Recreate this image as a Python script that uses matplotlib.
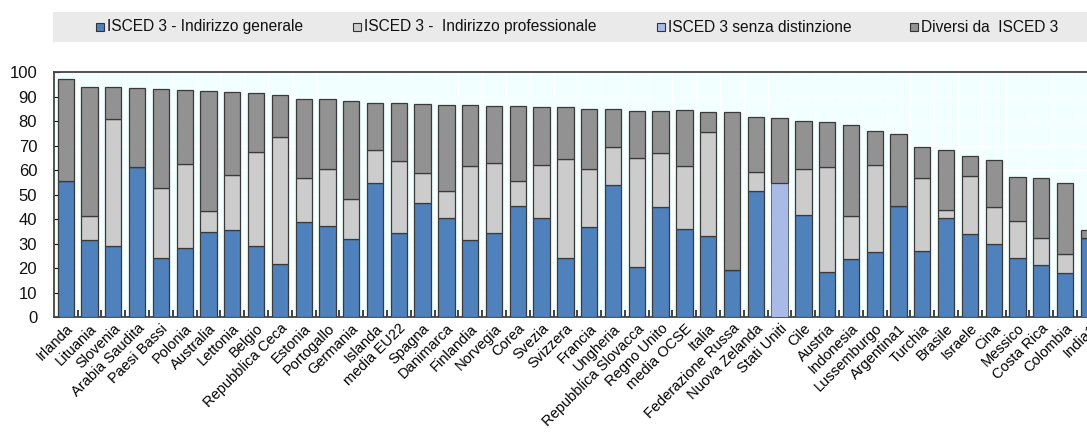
import matplotlib
matplotlib.use("Agg")
import matplotlib.pyplot as plt
from matplotlib.patches import Rectangle
import numpy as np

countries = ["Irlanda", "Lituania", "Slovenia", "Arabia Saudita", "Paesi Bassi", "Polonia",
             "Australia", "Lettonia", "Belgio", "Repubblica Ceca", "Estonia", "Portogallo",
             "Germania", "Islanda", "media EU22", "Spagna", "Danimarca", "Finlandia",
             "Norvegia", "Corea", "Svezia", "Svizzera", "Francia", "Ungheria",
             "Repubblica Slovacca", "Regno Unito", "media OCSE", "Italia", "Federazione Russa",
             "Nuova Zelanda", "Stati Uniti", "Cile", "Austria", "Indonesia", "Lussemburgo",
             "Argentina1", "Turchia", "Brasile", "Israele", "Cina", "Messico", "Costa Rica",
             "Colombia", "India1"]

# cumulative levels
general = [55.8, 31.6, 29.3, 61.5, 24.4, 28.4, 35.0, 35.6, 29.3, 21.9, 38.9, 37.1,
           32.0, 55.0, 34.6, 46.8, 40.5, 31.6, 34.6, 45.6, 40.5, 24.2, 37.0, 54.0,
           20.5, 45.2, 36.1, 33.2, 19.3, 51.4, 0.0, 41.9, 18.5, 23.8, 26.7,
           45.6, 26.9, 40.4, 34.0, 29.9, 24.2, 21.5, 18.0, 32.2]
general_plus_prof = [55.8, 41.5, 80.8, 61.5, 52.8, 62.7, 43.5, 58.0, 67.5, 73.7, 57.0, 60.4,
                     48.3, 68.2, 63.9, 58.8, 51.6, 61.8, 63.0, 55.6, 62.0, 64.6, 60.4, 69.7,
                     64.9, 67.1, 61.9, 75.8, 19.3, 59.3, 0.0, 60.7, 61.5, 41.2, 62.3,
                     45.6, 57.0, 43.7, 57.7, 44.9, 39.5, 32.5, 25.9, 32.2]
no_distinction = [0, 0, 0, 0, 0, 0, 0, 0, 0, 0, 0, 0, 0, 0, 0, 0, 0, 0, 0, 0, 0, 0,
                  0, 0, 0, 0, 0, 0, 0, 0, 55.0, 0, 0, 0, 0, 0, 0, 0, 0, 0, 0, 0, 0, 0]
total = [97.1, 94.1, 94.1, 93.7, 93.2, 92.8, 92.2, 91.8, 91.6, 90.7, 89.1, 89.0,
         88.3, 87.6, 87.6, 87.1, 86.8, 86.8, 86.4, 86.4, 86.0, 85.7, 85.0, 85.0,
         84.4, 84.1, 84.8, 83.8, 83.8, 81.6, 81.2, 80.1, 79.7, 78.5, 76.1,
         74.7, 69.7, 68.4, 66.0, 64.4, 57.1, 57.0, 55.0, 35.6]

labels = ["ISCED 3 - Indirizzo generale", "ISCED 3 -  Indirizzo professionale",
          "ISCED 3 senza distinzione", "Diversi da  ISCED 3"]
colors = ["#4F81BD", "#CCCCCC", "#A9BAE6", "#929292"]

plt.rcParams['font.family'] = ['Liberation Sans', 'DejaVu Sans']

g = np.array(general)
gp = np.array(general_plus_prof)
nd = np.array(no_distinction)
tot = np.array(total)
prof = np.where(nd > 0, 0, gp - g)
base_other = np.maximum(gp, nd)
other = tot - base_other

W, H = 1087, 436
fig = plt.figure(figsize=(W / 100, H / 100), dpi=100)
ax = fig.add_axes([53.8 / W, (H - 317.3) / H, 1047 / W, (317.3 - 72.3) / H])
ax.set_facecolor("#F2FFFF")

x = np.arange(len(countries))
bw = 0.685
ec = "#3A3A3A"
lw = 0.9
ax.bar(x, g, bw, color=colors[0], edgecolor=ec, linewidth=lw, zorder=3)
ax.bar(x, prof, bw, bottom=g, color=colors[1], edgecolor=ec, linewidth=lw, zorder=3)
ax.bar(x, nd, bw, color=colors[2], edgecolor=ec, linewidth=0.5, zorder=3)
ax.bar(x, other, bw, bottom=base_other, color=colors[3], edgecolor=ec, linewidth=lw, zorder=3)

ax.set_xlim(-0.5, len(countries) - 0.5)
ax.set_ylim(0, 100)
ax.set_yticks(np.arange(0, 101, 10))
ax.tick_params(axis='y', direction='in', length=4, pad=12, labelsize=12, colors="#111111")
ax.set_xticks(x)
ax.set_xticklabels(countries, rotation=45, ha='right', rotation_mode='anchor', fontsize=10.5)
ax.tick_params(axis='x', which='major', length=0, pad=3)
ax.set_xticks(x[:-1] + 0.5, minor=True)
ax.tick_params(axis='x', which='minor', direction='in', length=5, width=1.2, color="#222222")

ax.grid(True, axis='y', color='white', linewidth=1.0, zorder=0)
ax.grid(True, axis='x', which='minor', color='white', linewidth=1.0, zorder=0)
ax.set_axisbelow(True)
for s in ['top', 'bottom', 'left']:
    ax.spines[s].set_color("#444444")
    ax.spines[s].set_linewidth(1.3)
ax.spines['right'].set_visible(False)

# legend strip
fig.patches.append(Rectangle((53 / W, (H - 42) / H), (W - 53) / W, 30 / H,
                             transform=fig.transFigure, facecolor="#EAEAEA",
                             edgecolor='none', zorder=0))
mx = [100, 357, 661, 914]
for xm, lab, col in zip(mx, labels, colors):
    fig.patches.append(Rectangle(((xm - 4) / W, (H - 31) / H), 8 / W, 8 / H,
                                 transform=fig.transFigure, facecolor=col,
                                 edgecolor="#333333", linewidth=0.8, zorder=2))
    fig.text((xm + 7) / W, (H - 27) / H, lab, fontsize=11.2, va='center', ha='left',
             color="#111111")

fig.savefig("out.png", dpi=100)
